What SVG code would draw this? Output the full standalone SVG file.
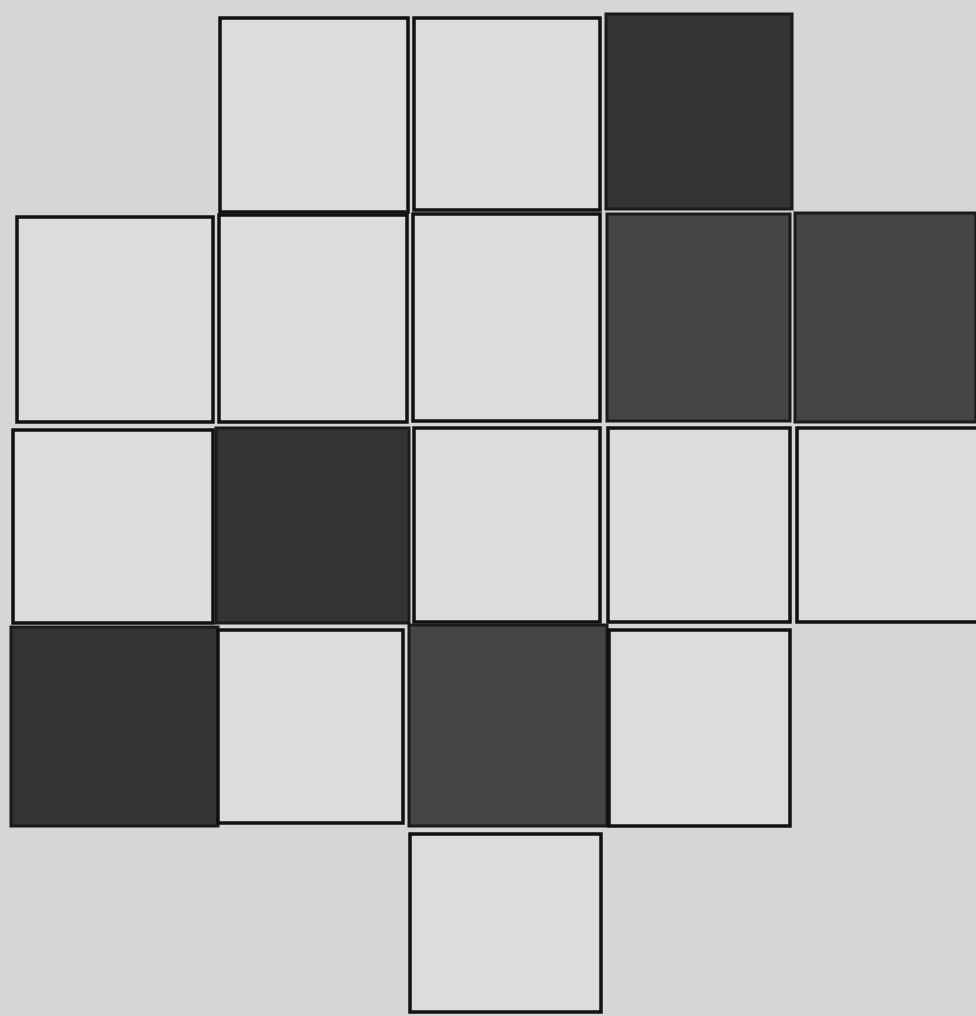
<svg xmlns="http://www.w3.org/2000/svg" width="976" height="1016" viewBox="0 0 976 1016">
<style>
.l{fill:#dcdcdc;stroke:#111;stroke-width:3.5}
.d{fill:#333;stroke:#1a1a1a;stroke-width:3}
.m{fill:#454545;stroke:#1a1a1a;stroke-width:3}
</style>
<rect width="976" height="1016" fill="#d6d6d6"/>
<g id="r0c1"><rect class="l" x="220" y="18" width="188" height="194"/></g>
<g id="r0c2"><rect class="l" x="414" y="18" width="186" height="192"/></g>
<g id="r0c3"><rect class="d" x="606" y="14" width="186" height="195"/></g>
<g id="r1c0"><rect class="l" x="17" y="217" width="196" height="205"/></g>
<g id="r1c1"><rect class="l" x="219" y="215" width="188" height="207"/></g>
<g id="r1c2"><rect class="l" x="413" y="214" width="187" height="207"/></g>
<g id="r1c3"><rect class="m" x="607" y="214" width="183" height="207"/></g>
<g id="r1c4"><rect class="m" x="795" y="213" width="181" height="209"/></g>
<g id="r2c0"><rect class="l" x="13" y="430" width="200" height="193"/></g>
<g id="r2c1"><rect class="d" x="216" y="428" width="193" height="195"/></g>
<g id="r2c2"><rect class="l" x="414" y="428" width="186" height="194"/></g>
<g id="r2c3"><rect class="l" x="608" y="428" width="182" height="194"/></g>
<g id="r2c4"><rect class="l" x="797" y="428" width="181" height="194"/></g>
<g id="r3c0"><rect class="d" x="11" y="627" width="207" height="199"/></g>
<g id="r3c1"><rect class="l" x="218" y="630" width="185" height="193"/></g>
<g id="r3c2"><rect class="m" x="409" y="625" width="198" height="201"/></g>
<g id="r3c3"><rect class="l" x="609" y="630" width="181" height="196"/></g>
<g id="r4c2"><rect class="l" x="410" y="834" width="191" height="178"/></g>
<g id="connectors"></g>
</svg>
